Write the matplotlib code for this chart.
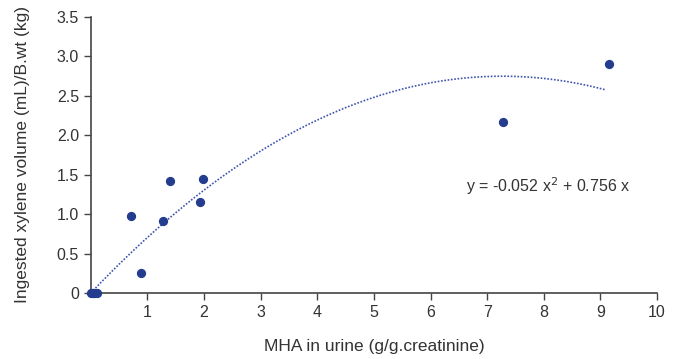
"""Scatter of ingested xylene volume against urinary MHA with a quadratic fit."""

import numpy as np
from matplotlib import pyplot as plt

plt.rcParams["font.family"] = ["Liberation Sans Narrow", "Liberation Sans", "DejaVu Sans"]

# measured cases
mha = [0.0, 0.03, 0.06, 0.1, 0.71, 0.88, 1.27, 1.40, 1.93, 1.98, 7.28, 9.15]
xylene = [0.0, 0.0, 0.0, 0.0, 0.98, 0.25, 0.91, 1.42, 1.15, 1.44, 2.17, 2.90]

# fitted curve y = a x^2 + b x
coef_a = -0.052
coef_b = 0.756
fit_range = (0.0, 9.1)

x_ticks = list(range(1, 11))
y_ticks = [0, 0.5, 1.0, 1.5, 2.0, 2.5, 3.0, 3.5]
y_tick_labels = ["0", "0.5", "1.0", "1.5", "2.0", "2.5", "3.0", "3.5"]

fig = plt.figure(figsize=(6.78, 3.59), dpi=100)
ax = fig.add_axes([0.134, 0.184, 0.835, 0.769])

xs = np.linspace(fit_range[0], fit_range[1], 200)
ax.plot(xs, coef_a * xs**2 + coef_b * xs, linestyle=(0, (1, 1)), color="#3d55aa", lw=1.2)
ax.scatter(mha, xylene, s=32, color="#233c8e", zorder=3, clip_on=False)

ax.text(6.62, 1.36, f"y = {coef_a} x$^{{2}}$ + {coef_b} x", fontsize=11.5, va="center",
        ha="left", color="#333333")

ax.set_xlim(0, 10)
ax.set_ylim(0, 3.5)
ax.set_xticks(x_ticks)
ax.set_yticks(y_ticks)
ax.set_yticklabels(y_tick_labels)
for side in ["top", "right"]:
    ax.spines[side].set_visible(False)
for side in ["left", "bottom"]:
    ax.spines[side].set_color("#444444")
    ax.spines[side].set_linewidth(1.2)
ax.tick_params(colors="#444444", labelcolor="#333333", labelsize=11.5, length=5, width=1)

ax.set_xlabel("MHA in urine (g/g.creatinine)", fontsize=12.5, color="#333333", labelpad=14)
ax.set_ylabel("Ingested xylene volume (mL)/B.wt (kg)", fontsize=12.5, color="#333333", labelpad=19)

fig.savefig("out.png", dpi=100)
